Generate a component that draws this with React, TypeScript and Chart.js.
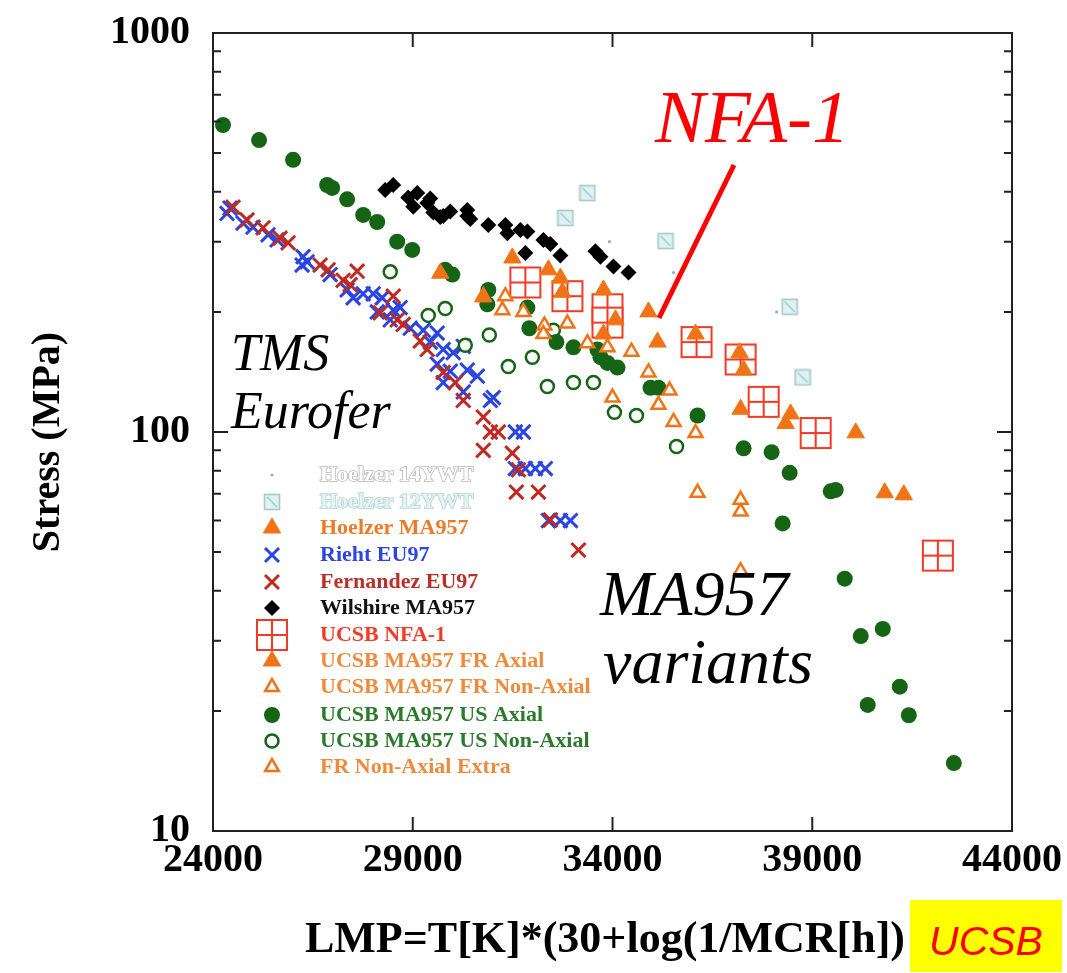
import React, { useEffect, useRef } from "react";
import { Chart, registerables } from "chart.js";
Chart.register(...registerables);

// ---------- axis ticks ----------
const X_TICKS = [24000, 29000, 34000, 39000, 44000];
const Y_TICKS = [10, 100, 1000];
const Y_MINOR = [20, 30, 40, 50, 60, 70, 80, 90, 200, 300, 400, 500, 600, 700, 800, 900];
const X_TITLE = "LMP=T[K]*(30+log(1/MCR[h])";
const Y_TITLE = "Stress (MPa)";

// ---------- series ----------
const h14X = [33924, 35528, 38109];
const h14Y = [300, 251, 200];

const h12X = [32821, 33372, 35327, 38434, 38760];
const h12Y = [344, 397, 301, 206, 137];

const hMA957X = [31493, 32696, 32746, 33773, 34074, 36079, 37181, 37282, 40088, 40815, 41291];
const hMA957Y = [273, 243, 224, 227, 191, 176, 158, 143, 99.5, 70.4, 69.6];

const riehtX = [24351, 24426, 24752, 25002, 25378, 25604, 26255, 26230, 26356, 26932, 27358, 27508, 27759, 28010, 28235, 28110, 28511, 28686, 28436, 28937, 29263, 29613, 29438, 29764, 30014, 30265, 29613, 29939, 30365, 30616, 29764, 30265, 30942, 31017, 31568, 31769, 31568, 31819, 32070, 32320, 32395, 32696, 32947];
const riehtY = [353, 364, 334, 326, 312, 303, 275, 262, 267, 248, 227, 217, 222, 222, 217, 200, 202, 205, 191, 182, 180, 177, 168, 161, 158, 164, 148, 142, 143, 138, 133, 126, 120, 122, 100, 100, 81, 81, 81, 81, 60, 60, 60];

const fernX = [24501, 24852, 25253, 25679, 25880, 26682, 26882, 27258, 27433, 27608, 28511, 28185, 28611, 28761, 29187, 29363, 29764, 30065, 30265, 30766, 30942, 31142, 30766, 31493, 31644, 31593, 32145, 32445, 33147];
const fernY = [366, 340, 325, 306, 298, 262, 255, 240, 234, 253, 219, 199, 191, 186, 169, 161, 141, 133, 120, 109, 100, 100, 90, 88.5, 80.4, 70.7, 70.7, 60.2, 50.6];

const wilX = [28310, 28511, 28887, 29112, 29012, 29363, 29513, 29764, 29438, 29689, 29939, 30365, 30365, 30440, 30892, 31318, 31368, 31694, 31869, 32270, 32445, 31819, 32696, 33573, 33698, 34024, 34400];
const wilY = [404, 416, 387, 397, 367, 375, 355, 348, 385, 346, 357, 360, 348, 342, 330, 330, 315, 321, 318, 303, 296, 281, 277, 284, 275, 260, 251];

const nfaX = [31819, 32871, 33874, 33874, 36104, 37206, 37783, 39086, 42143];
const nfaY = [237, 219, 203, 188, 168, 152, 119, 99.4, 49.0];

const frAxX = [29689, 30766, 32395, 33773, 34901, 35127, 37206, 38459, 38334];
const frAxY = [250, 218, 255, 176, 200, 168, 114, 111, 105];

const frNonX = [30766, 31318, 31243, 31769, 32295, 32871, 32270, 33372, 33874, 34475, 34901, 35428, 33999, 35152, 35528, 36079, 36129, 37206];
const frNonY = [219, 219, 202, 200, 185, 187, 176, 167, 163, 159, 141, 127, 122, 117, 106, 99.4, 70.4, 67.6];

const usAxX = [24250, 25153, 26005, 26857, 26982, 27358, 27759, 28110, 28611, 28987, 29814, 29990, 30892, 30867, 31869, 31919, 32596, 33022, 33623, 33698, 33874, 34124, 34951, 35152, 36129, 37282, 37983, 38434, 38259, 39462, 39587, 39813, 40214, 40765, 41191, 40389, 41417, 42544];
const usAxY = [588, 539, 481, 416, 409, 383, 350, 336, 300, 286, 255, 248, 227, 209, 205, 182, 168, 163, 161, 154, 149, 145, 129, 129, 110, 91, 89, 79, 59, 71, 71.6, 42.9, 30.8, 32.1, 23.0, 20.7, 19.5, 14.8];

const usNonX = [28436, 29388, 29814, 30315, 30917, 31393, 31994, 32520, 32370, 33022, 33523, 34049, 34600, 35603];
const usNonY = [252, 196, 204, 165, 175, 146, 154, 180, 130, 133, 133, 112, 110, 92];

const extraX = [37206, 37206];
const extraY = [63.2, 44.8];

const LEGEND_LABELS = [
  "Hoelzer 14YWT",
  "Hoelzer 12YWT",
  "Hoelzer MA957",
  "Rieht EU97",
  "Fernandez EU97",
  "Wilshire MA957",
  "UCSB NFA-1",
  "UCSB MA957 FR Axial",
  "UCSB MA957 FR Non-Axial",
  "UCSB MA957 US Axial",
  "UCSB MA957 US Non-Axial",
  "FR Non-Axial Extra",
];

// ---------- colours ----------
const GREEN = "#166416";
const ORANGE = "#f07416";
const BLUE = "#2a45e0";
const DRED = "#bf2a22";
const NFA_RED = "#f23a26";

const zip = (xs: number[], ys: number[]) => xs.map((x, i) => ({ x, y: ys[i] }));

function makeNfaImage(): HTMLCanvasElement {
  const c = document.createElement("canvas");
  c.width = 34;
  c.height = 34;
  const g = c.getContext("2d")!;
  g.fillStyle = "#fff";
  g.fillRect(2, 2, 30, 30);
  g.strokeStyle = NFA_RED;
  g.lineWidth = 2;
  g.strokeRect(2, 2, 30, 30);
  g.beginPath();
  g.moveTo(17, 2);
  g.lineTo(17, 32);
  g.moveTo(2, 17);
  g.lineTo(32, 17);
  g.stroke();
  return c;
}

function make12Image(): HTMLCanvasElement {
  const c = document.createElement("canvas");
  c.width = 18;
  c.height = 18;
  const g = c.getContext("2d")!;
  g.fillStyle = "#ddf2f2";
  g.fillRect(1.5, 1.5, 15, 15);
  g.strokeStyle = "#a9c8c8";
  g.lineWidth = 1.6;
  g.strokeRect(1.5, 1.5, 15, 15);
  g.strokeStyle = "#9cc7c7";
  g.lineWidth = 1.2;
  g.beginPath();
  g.moveTo(4, 4);
  g.lineTo(14, 14);
  g.stroke();
  return c;
}

export default function App() {
  const ref = useRef<HTMLCanvasElement>(null);

  useEffect(() => {
    document.body.style.margin = "0";
    const canvas = ref.current!;
    const nfaImg = makeNfaImage();
    const y12Img = make12Image();

    const serif = "'Liberation Serif', 'Times New Roman', serif";

    const drawTri = (ctx: CanvasRenderingContext2D, x: number, y: number, r: number, fill: string, stroke: string, lw: number) => {
      ctx.beginPath();
      ctx.moveTo(x, y - r);
      ctx.lineTo(x + r * 0.866, y + r * 0.5);
      ctx.lineTo(x - r * 0.866, y + r * 0.5);
      ctx.closePath();
      ctx.fillStyle = fill;
      ctx.fill();
      ctx.strokeStyle = stroke;
      ctx.lineWidth = lw;
      ctx.stroke();
    };

    const drawMarker = (ctx: CanvasRenderingContext2D, kind: string, x: number, y: number) => {
      ctx.save();
      switch (kind) {
        case "dot":
          ctx.beginPath();
          ctx.arc(x, y, 1.6, 0, Math.PI * 2);
          ctx.fillStyle = "#aaa";
          ctx.fill();
          break;
        case "sq12":
          ctx.drawImage(y12Img, x - 9, y - 9);
          break;
        case "triF":
          drawTri(ctx, x, y, 10, ORANGE, ORANGE, 1);
          break;
        case "triO":
          drawTri(ctx, x, y, 8, "#fff", ORANGE, 2.5);
          break;
        case "crossB":
        case "crossR":
          ctx.strokeStyle = kind === "crossB" ? BLUE : DRED;
          ctx.lineWidth = 3;
          ctx.beginPath();
          ctx.moveTo(x - 7, y - 7);
          ctx.lineTo(x + 7, y + 7);
          ctx.moveTo(x + 7, y - 7);
          ctx.lineTo(x - 7, y + 7);
          ctx.stroke();
          break;
        case "diamond":
          ctx.beginPath();
          ctx.moveTo(x, y - 8);
          ctx.lineTo(x + 8, y);
          ctx.lineTo(x, y + 8);
          ctx.lineTo(x - 8, y);
          ctx.closePath();
          ctx.fillStyle = "#000";
          ctx.fill();
          break;
        case "nfa":
          ctx.drawImage(nfaImg, x - 17, y - 17);
          break;
        case "circF":
          ctx.beginPath();
          ctx.arc(x, y, 8, 0, Math.PI * 2);
          ctx.fillStyle = GREEN;
          ctx.fill();
          break;
        case "circO":
          ctx.beginPath();
          ctx.arc(x, y, 6.5, 0, Math.PI * 2);
          ctx.fillStyle = "#fff";
          ctx.fill();
          ctx.strokeStyle = GREEN;
          ctx.lineWidth = 2.5;
          ctx.stroke();
          break;
      }
      ctx.restore();
    };

    const legendKinds = ["dot", "sq12", "triF", "crossB", "crossR", "diamond", "nfa", "triF", "triO", "circF", "circO", "triO"];
    const legendColors = ["#ffffff", "#e2f4f4", "#ee7a26", "#2a45e0", "#b8302a", "#111111", "#f23a26", "#ef8a3c", "#ef8a3c", "#2c7a2c", "#2c7a2c", "#ef8a3c"];
    const legendRows = [475, 502, 528, 555, 582, 608, 635, 661, 687, 715, 741, 767];

    const extras = {
      id: "extras",
      beforeDraw(chart: any) {
        const ctx = chart.ctx;
        ctx.save();
        ctx.fillStyle = "#fff";
        ctx.fillRect(0, 0, chart.width, chart.height);
        ctx.restore();
      },
      afterDraw(chart: any) {
        const ctx: CanvasRenderingContext2D = chart.ctx;
        const xs = chart.scales.x;
        const ys = chart.scales.y;
        const { left, right, top, bottom } = chart.chartArea;
        ctx.save();
        // frame
        ctx.strokeStyle = "#222";
        ctx.lineWidth = 2;
        ctx.strokeRect(left, top, right - left, bottom - top);
        // inward ticks
        ctx.lineWidth = 2;
        ctx.beginPath();
        for (const v of Y_MINOR) {
          const py = ys.getPixelForValue(v);
          ctx.moveTo(left, py);
          ctx.lineTo(left + 8, py);
          ctx.moveTo(right, py);
          ctx.lineTo(right - 8, py);
        }
        for (const v of Y_TICKS) {
          const py = ys.getPixelForValue(v);
          ctx.moveTo(left, py);
          ctx.lineTo(left + 15, py);
          ctx.moveTo(right, py);
          ctx.lineTo(right - 15, py);
        }
        for (const v of X_TICKS) {
          const px = xs.getPixelForValue(v);
          ctx.moveTo(px, bottom);
          ctx.lineTo(px, bottom - 14);
          ctx.moveTo(px, top);
          ctx.lineTo(px, top + 14);
        }
        ctx.stroke();

        // axis titles
        ctx.fillStyle = "#000";
        ctx.textAlign = "center";
        ctx.textBaseline = "middle";
        ctx.font = `bold 44px ${serif}`;
        ctx.fillText(X_TITLE, 605, 941);
        ctx.save();
        ctx.translate(49, 442);
        ctx.rotate(-Math.PI / 2);
        ctx.font = `bold 40px ${serif}`;
        ctx.fillText(Y_TITLE, 0, 0);
        ctx.restore();

        // annotations
        ctx.fillStyle = "#000";
        ctx.textAlign = "left";
        ctx.textBaseline = "alphabetic";
        ctx.font = `italic 52px ${serif}`;
        ctx.fillText("TMS", 231, 370);
        ctx.fillText("Eurofer", 231, 428);
        ctx.font = `italic 64px ${serif}`;
        ctx.fillText("MA957", 600, 615);
        ctx.fillText("variants", 603, 683);
        ctx.fillStyle = "#ff0000";
        ctx.font = `italic 75px ${serif}`;
        ctx.fillText("NFA-1", 655, 142);
        ctx.strokeStyle = "#ff0000";
        ctx.lineWidth = 5;
        ctx.beginPath();
        ctx.moveTo(734, 165);
        ctx.lineTo(659, 318);
        ctx.stroke();

        // legend
        ctx.font = `bold 22px ${serif}`;
        ctx.textBaseline = "middle";
        LEGEND_LABELS.forEach((lab, i) => {
          const yy = legendRows[i];
          drawMarker(ctx, legendKinds[i], 272, yy);
          if (i === 0 || i === 1) {
            ctx.strokeStyle = i === 0 ? "#b8b8b8" : "#b4d2d2";
            ctx.lineWidth = 1.6;
            ctx.strokeText(lab, 320, yy);
          }
          ctx.fillStyle = legendColors[i];
          ctx.fillText(lab, 320, yy);
        });

        // UCSB badge
        ctx.fillStyle = "#ffff00";
        ctx.fillRect(910, 900, 152, 72);
        ctx.fillStyle = "#ff0000";
        ctx.textAlign = "center";
        ctx.textBaseline = "alphabetic";
        ctx.font = "italic 41px 'Liberation Sans', Arial, sans-serif";
        ctx.fillText("UCSB", 986, 955);
        ctx.restore();
      },
    };

    const chart = new Chart(canvas, {
      type: "scatter",
      data: {
        datasets: [
          { label: LEGEND_LABELS[2], data: zip(hMA957X, hMA957Y), pointStyle: "triangle", pointRadius: 10, pointBorderWidth: 1, pointBackgroundColor: ORANGE, pointBorderColor: ORANGE },
          { label: LEGEND_LABELS[7], data: zip(frAxX, frAxY), pointStyle: "triangle", pointRadius: 10, pointBorderWidth: 1, pointBackgroundColor: ORANGE, pointBorderColor: ORANGE },
          { label: LEGEND_LABELS[8], data: zip(frNonX, frNonY), pointStyle: "triangle", pointRadius: 8, pointBorderWidth: 2.5, pointBackgroundColor: "#fff", pointBorderColor: ORANGE },
          { label: LEGEND_LABELS[11], data: zip(extraX, extraY), pointStyle: "triangle", pointRadius: 8, pointBorderWidth: 2.5, pointBackgroundColor: "#fff", pointBorderColor: ORANGE },
          { label: LEGEND_LABELS[6], data: zip(nfaX, nfaY), pointStyle: nfaImg as any, pointRadius: 17 },
          { label: LEGEND_LABELS[9], data: zip(usAxX, usAxY), pointStyle: "circle", pointRadius: 8, pointBorderWidth: 0, pointBackgroundColor: GREEN, pointBorderColor: GREEN },
          { label: LEGEND_LABELS[10], data: zip(usNonX, usNonY), pointStyle: "circle", pointRadius: 6.5, pointBorderWidth: 2.5, pointBackgroundColor: "#fff", pointBorderColor: GREEN },
          { label: LEGEND_LABELS[1], data: zip(h12X, h12Y), pointStyle: y12Img as any, pointRadius: 9 },
          { label: LEGEND_LABELS[0], data: zip(h14X, h14Y), pointStyle: "circle", pointRadius: 1.6, pointBorderWidth: 0, pointBackgroundColor: "#aaa", pointBorderColor: "#aaa" },
          { label: LEGEND_LABELS[5], data: zip(wilX, wilY), pointStyle: "rectRot", pointRadius: 8, pointBorderWidth: 0, pointBackgroundColor: "#000", pointBorderColor: "#000" },
          { label: LEGEND_LABELS[4], data: zip(fernX, fernY), pointStyle: "crossRot", pointRadius: 10, pointBorderWidth: 3, pointBackgroundColor: DRED, pointBorderColor: DRED },
          { label: LEGEND_LABELS[3], data: zip(riehtX, riehtY), pointStyle: "crossRot", pointRadius: 10, pointBorderWidth: 3, pointBackgroundColor: BLUE, pointBorderColor: BLUE },
        ] as any,
      },
      options: {
        responsive: false,
        animation: false,
        events: [],
        layout: { padding: { left: 0, top: 33, right: 55, bottom: 0 } },
        plugins: { legend: { display: false }, tooltip: { enabled: false } },
        scales: {
          x: {
            type: "linear",
            min: 24000,
            max: 44000,
            afterBuildTicks: (s: any) => {
              s.ticks = X_TICKS.map((v) => ({ value: v }));
            },
            afterFit: (s: any) => {
              s.height = 142;
              s.paddingLeft = 0;
              s.paddingRight = 0;
            },
            grid: { display: false, drawTicks: false },
            border: { display: false },
            ticks: {
              padding: 6,
              color: "#000",
              maxRotation: 0,
              autoSkip: false,
              font: { family: serif, weight: "bold", size: 40 },
              callback: (v: any) => String(v),
            },
            title: { display: false },
          },
          y: {
            type: "logarithmic",
            min: 10,
            max: 1000,
            afterBuildTicks: (s: any) => {
              s.ticks = Y_TICKS.map((v) => ({ value: v }));
            },
            afterFit: (s: any) => {
              s.width = 213;
              s.paddingTop = 0;
              s.paddingBottom = 0;
            },
            grid: { display: false, drawTicks: false },
            border: { display: false },
            ticks: {
              padding: 23,
              color: "#000",
              autoSkip: false,
              font: { family: serif, weight: "bold", size: 40 },
              callback: (v: any) => String(v),
            },
            title: { display: false },
          },
        },
      },
      plugins: [extras],
    });

    return () => chart.destroy();
  }, []);

  return <canvas ref={ref} width={1067} height={973} style={{ display: "block" }} />;
}
